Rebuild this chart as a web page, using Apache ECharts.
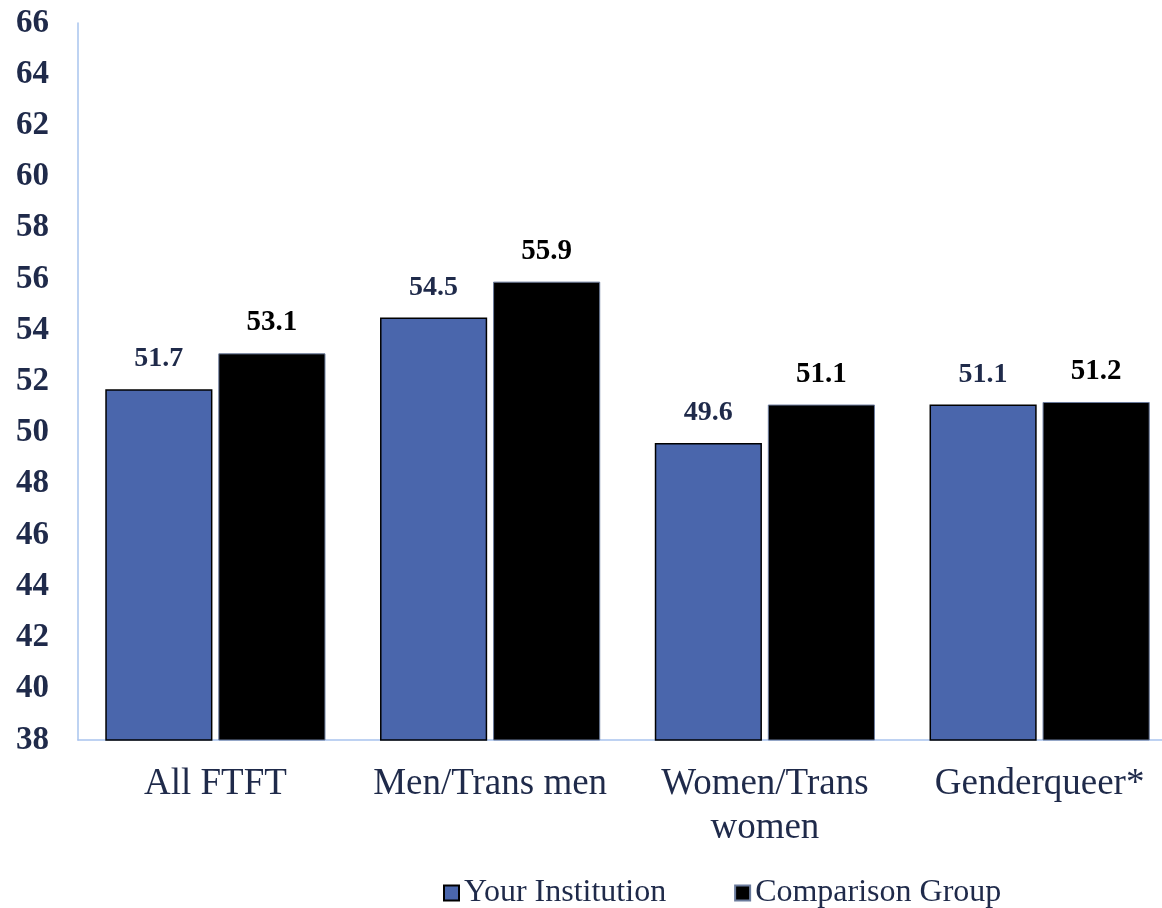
<!DOCTYPE html>
<html>
<head>
<meta charset="utf-8">
<script src="https://cdn.jsdelivr.net/npm/echarts@6/dist/echarts.min.js"></script>
<style>html,body{margin:0;padding:0;background:#fff;}#c{width:1162px;height:908px;}</style>
</head>
<body>
<div id="c"></div>
<script>
const categories = ['All FTFT', 'Men/Trans men', 'Women/Trans\nwomen', 'Genderqueer*'];
const yourInstitution = [51.7, 54.5, 49.6, 51.1];
const comparisonGroup = [53.1, 55.9, 51.1, 51.2];
const seriesNames = ['Your Institution', 'Comparison Group'];

const navy = '#1f2a4a';
const serif = '"Liberation Serif", "DejaVu Serif", serif';
const chart = echarts.init(document.getElementById('c'));
chart.setOption({
  animation: false,
  backgroundColor: '#fff',
  grid: { left: 78, width: 1099, top: 23, height: 717, containLabel: false, outerBoundsMode: 'none' },
  legend: {
    top: 872, left: 438,
    icon: 'rect',
    itemWidth: 15, itemHeight: 15, itemGap: 68,
    textStyle: { fontFamily: serif, fontSize: 32, color: navy, padding: [0, 0, 0, 0] },
    data: seriesNames
  },
  xAxis: {
    type: 'category', data: categories,
    axisLine: { lineStyle: { color: '#a9c4ee', width: 1.5 } },
    axisTick: { show: false },
    axisLabel: { interval: 0, hideOverlap: false, fontFamily: serif, fontSize: 37, color: navy, margin: 22, lineHeight: 44 }
  },
  yAxis: {
    type: 'value', min: 38, max: 66, interval: 2,
    axisLine: { show: true, lineStyle: { color: '#a9c4ee', width: 1.5 } },
    axisTick: { show: false },
    splitLine: { show: false },
    axisLabel: { fontFamily: serif, fontSize: 33, fontWeight: 'bold', color: navy, margin: 29 }
  },
  series: [
    {
      name: seriesNames[0], type: 'bar', data: yourInstitution,
      barWidth: '39%', barGap: '5.5%',
      itemStyle: { color: '#4a66ac', borderColor: '#000', borderWidth: 1.5 },
      label: { show: true, position: 'top', distance: 16, fontFamily: serif, fontSize: 28, fontWeight: 'bold', color: navy, formatter: p => p.value.toFixed(1) }
    },
    {
      name: seriesNames[1], type: 'bar', data: comparisonGroup,
      barWidth: '39%',
      itemStyle: { color: '#000', borderColor: '#6b7b9c', borderWidth: 1 },
      label: { show: true, position: 'top', distance: 16, fontFamily: serif, fontSize: 29, fontWeight: 'bold', color: '#000', formatter: p => p.value.toFixed(1) }
    }
  ]
});
</script>
</body>
</html>
